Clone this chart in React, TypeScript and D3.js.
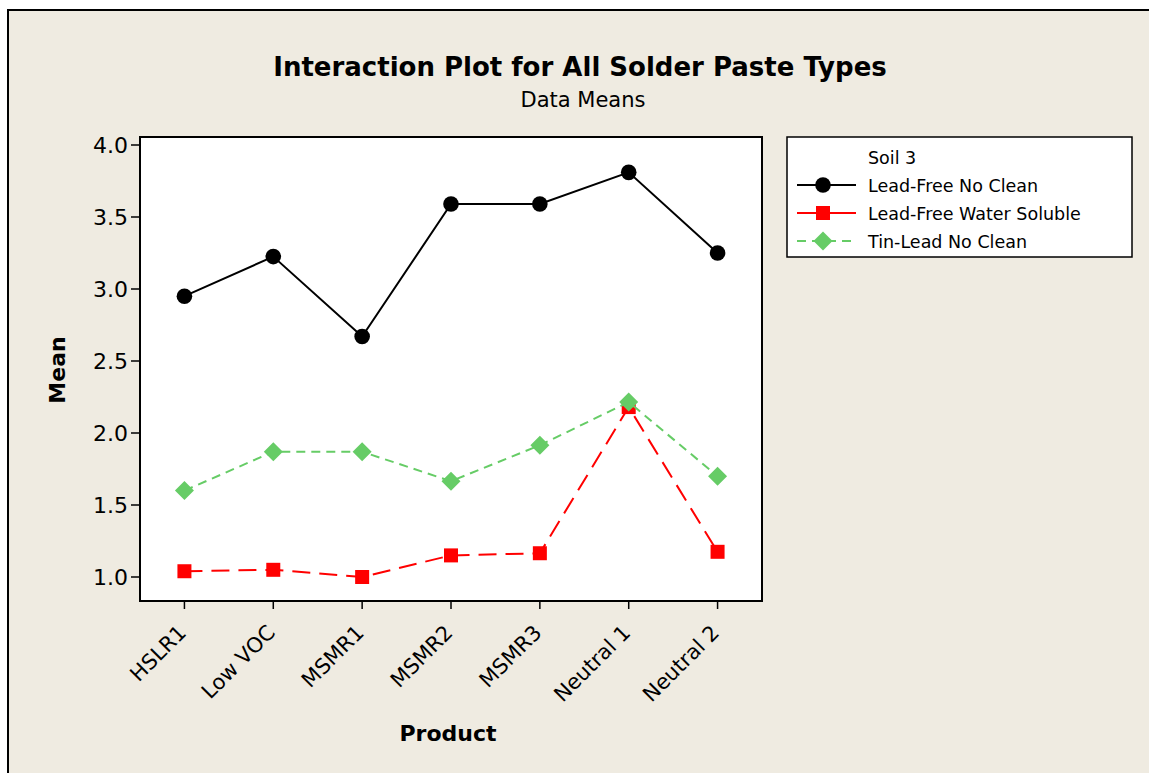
import React from 'react';
import * as d3 from 'd3';

const products = ['HSLR1', 'Low VOC', 'MSMR1', 'MSMR2', 'MSMR3', 'Neutral 1', 'Neutral 2'];
const leadFreeNoClean = [2.95, 3.225, 2.67, 3.59, 3.59, 3.81, 3.25];
const leadFreeWaterSoluble = [1.04, 1.05, 1.0, 1.15, 1.165, 2.18, 1.175];
const tinLeadNoClean = [1.6, 1.87, 1.87, 1.665, 1.915, 2.215, 1.70];
const yTicks = [1.0, 1.5, 2.0, 2.5, 3.0, 3.5, 4.0];

const series = [
  { name: 'Lead-Free No Clean', values: leadFreeNoClean, color: '#000000', dash: '', marker: 'circle' },
  { name: 'Lead-Free Water Soluble', values: leadFreeWaterSoluble, color: '#ff0000', dash: '18,9', marker: 'square' },
  { name: 'Tin-Lead No Clean', values: tinLeadNoClean, color: '#66cc66', dash: '9,6', marker: 'diamond' },
];

const font = '"DejaVu Sans", Verdana, sans-serif';

const Marker = ({ type, x, y, color }: { type: string; x: number; y: number; color: string }) => {
  if (type === 'circle') return <circle cx={x} cy={y} r={7.8} fill={color} />;
  if (type === 'square') return <rect x={x - 7} y={y - 7} width={14} height={14} fill={color} />;
  return <path d={`M${x},${y - 9.5}L${x + 9.5},${y}L${x},${y + 9.5}L${x - 9.5},${y}Z`} fill={color} />;
};

export default function App() {
  const W = 1149, H = 773;
  const plot = { left: 140, top: 137, right: 762, bottom: 601 };

  // point scale, half a step of padding at both ends
  const x = d3.scalePoint<string>().domain(products).range([plot.left, plot.right]).padding(0.5);
  const y = d3.scaleLinear().domain([1, 4]).range([577, 145]);

  const line = d3.line<number>()
    .x((_, i) => x(products[i]) as number)
    .y(d => y(d));

  return (
    <svg width={W} height={H} style={{ position: 'absolute', left: 0, top: 0 }}>
      <rect x={0} y={0} width={W} height={H} fill="#ffffff" />
      <rect x={8} y={10} width={W + 10} height={H + 10} fill="#efebe1" stroke="#000" strokeWidth={2} />

      {/* titles */}
      <text x={580} y={76} textAnchor="middle" fontFamily={font} fontWeight="bold" fontSize={26} fill="#000">
        Interaction Plot for All Solder Paste Types
      </text>
      <text x={583} y={107} textAnchor="middle" fontFamily={font} fontSize={21} fill="#000">Data Means</text>

      {/* plot area */}
      <rect x={plot.left} y={plot.top} width={plot.right - plot.left} height={plot.bottom - plot.top}
        fill="#ffffff" stroke="#000" strokeWidth={2} />

      {/* y axis */}
      {yTicks.map(t => (
        <g key={t}>
          <line x1={plot.left - 9} x2={plot.left} y1={y(t)} y2={y(t)} stroke="#000" strokeWidth={1.5} />
          <text x={plot.left - 12} y={y(t) + 8} textAnchor="end" fontFamily={font} fontSize={22} fill="#000">
            {d3.format('.1f')(t)}
          </text>
        </g>
      ))}
      <text transform="translate(65,370) rotate(-90)" textAnchor="middle" fontFamily={font} fontWeight="bold"
        fontSize={22} fill="#000">Mean</text>

      {/* x axis */}
      {products.map(p => {
        const px = x(p) as number;
        return (
          <g key={p}>
            <line x1={px} x2={px} y1={plot.bottom} y2={plot.bottom + 8} stroke="#000" strokeWidth={1.5} />
            <text transform={`translate(${px + 3},${plot.bottom + 33}) rotate(-45)`} textAnchor="end"
              fontFamily={font} fontSize={21} fill="#000">{p}</text>
          </g>
        );
      })}
      <text x={448} y={741} textAnchor="middle" fontFamily={font} fontWeight="bold" fontSize={22} fill="#000">Product</text>

      {/* series */}
      {series.map(s => (
        <g key={s.name}>
          <path d={line(s.values) as string} fill="none" stroke={s.color} strokeWidth={2}
            strokeDasharray={s.dash || undefined} />
          {s.values.map((v, i) => (
            <Marker key={i} type={s.marker} x={x(products[i]) as number} y={y(v)} color={s.color} />
          ))}
        </g>
      ))}

      {/* legend */}
      <rect x={787} y={137} width={345} height={120} fill="#ffffff" stroke="#000" strokeWidth={1.5} />
      <text x={868} y={164} fontFamily={font} fontSize={17.5} fill="#000">Soil 3</text>
      {series.map((s, i) => {
        const ly = 185 + i * 28;
        return (
          <g key={s.name}>
            <line x1={797} x2={856} y1={ly} y2={ly} stroke={s.color} strokeWidth={2}
              strokeDasharray={s.marker === 'diamond' ? '9,6' : undefined} />
            <Marker type={s.marker} x={823} y={ly} color={s.color} />
            <text x={868} y={ly + 6.5} fontFamily={font} fontSize={17.5} fill="#000">{s.name}</text>
          </g>
        );
      })}
    </svg>
  );
}
